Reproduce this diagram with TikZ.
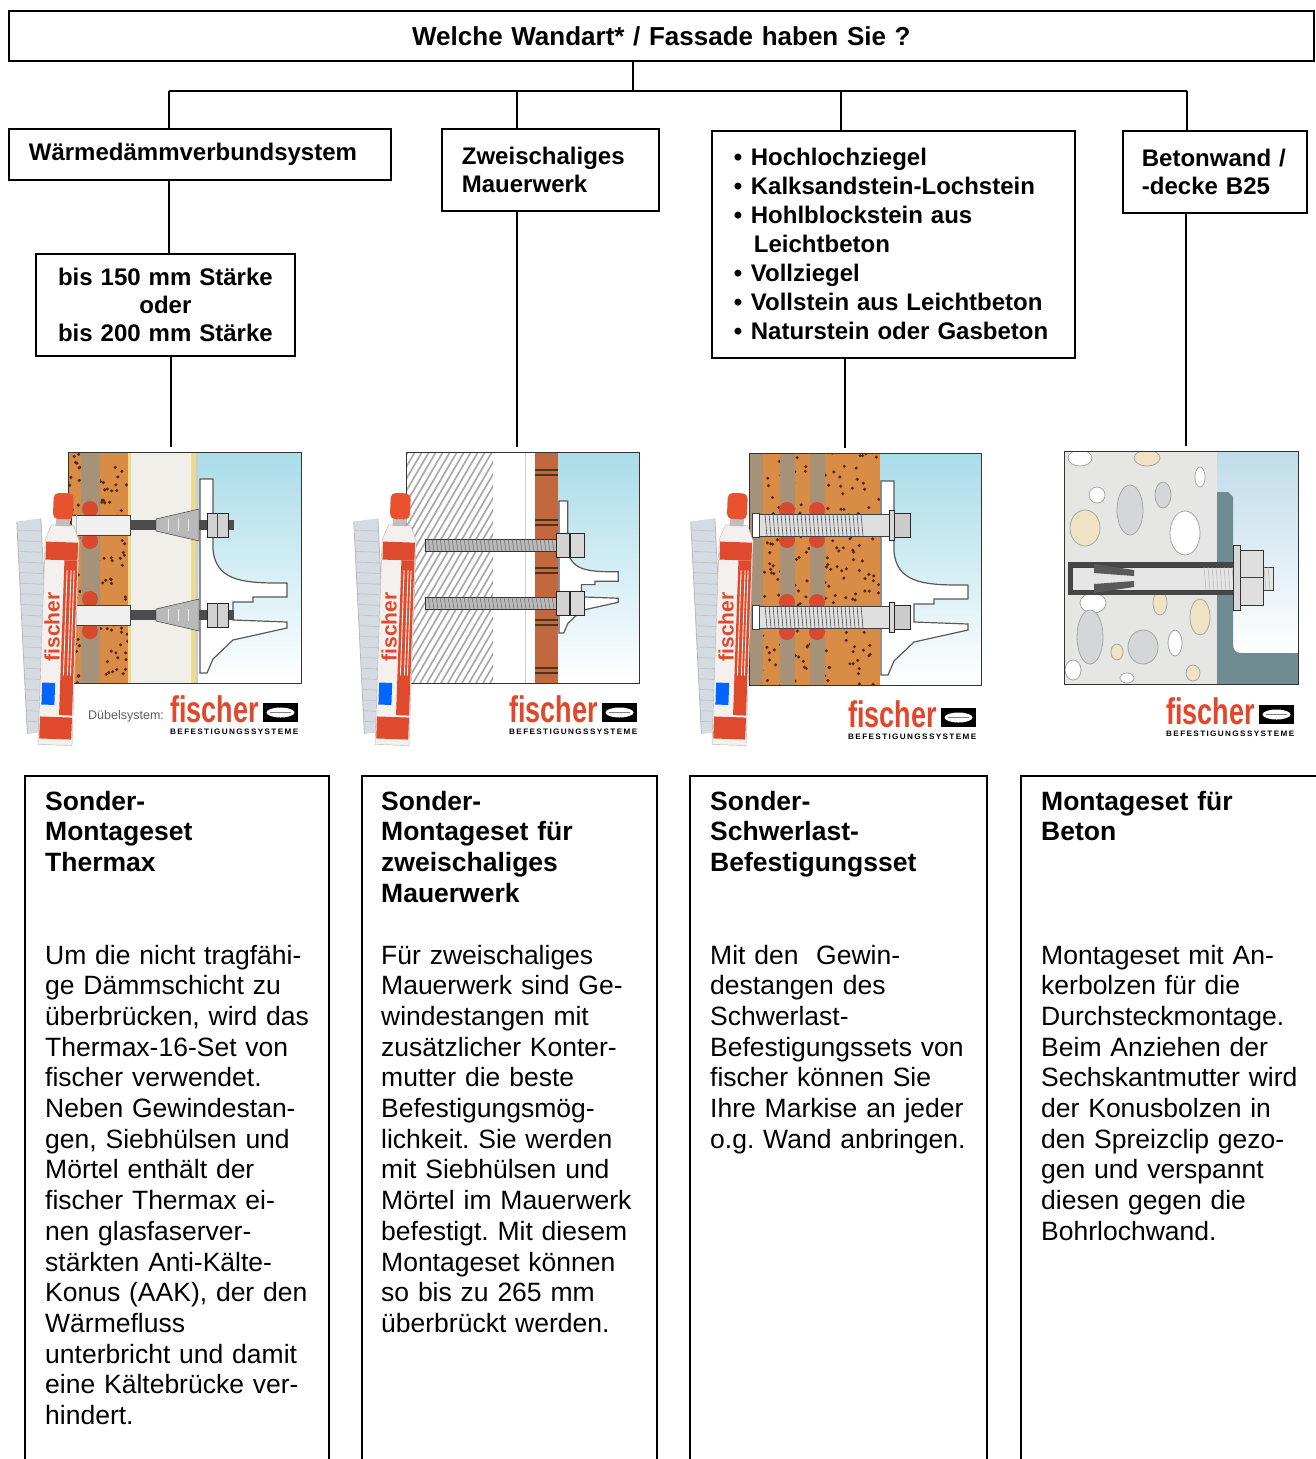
\documentclass[tikz,border=0pt]{standalone}
\usepackage{fontspec}
\setmainfont{Liberation Sans}
\usepackage{graphicx}
\usetikzlibrary{calc}
\frenchspacing
\definecolor{brick}{HTML}{D98C45}
\definecolor{dotc}{HTML}{5A2810}
\definecolor{stone}{HTML}{A69279}
\definecolor{mortar}{HTML}{D9492E}
\definecolor{insul}{HTML}{F1EFEA}
\definecolor{yline}{HTML}{EADB8E}
\definecolor{skytop}{HTML}{A9DCE9}
\definecolor{skyfour}{HTML}{BFDCEA}
\definecolor{bricktwo}{HTML}{C2683E}
\definecolor{concrete}{HTML}{E6E6E4}
\definecolor{pebgrey}{HTML}{D4D6D8}
\definecolor{pebbeige}{HTML}{EFE3C4}
\definecolor{steel}{HTML}{6E8C92}
\definecolor{fred}{HTML}{E2472B}
\definecolor{capred}{HTML}{E8522E}
\definecolor{labred}{HTML}{E04A2C}
\definecolor{tube}{HTML}{D5DBE2}
\definecolor{bodywhite}{HTML}{F4F0EE}

\tikzset{
  box/.style={draw, line width=1.8pt, inner xsep=20pt, inner ysep=0pt, anchor=north west,
    align=left, font=\fontsize{24}{28}\selectfont\bfseries},
  wire/.style={line width=1.8pt},
  photo/.style={draw=black!80, line width=1.3pt, anchor=north west, inner sep=0pt},
  openbox/.style={draw, line width=1.8pt, anchor=north west, inner sep=0pt, minimum height=720pt},
  head/.style={anchor=base west, inner sep=0pt, align=left, text width=300pt,
    font=\fontsize{26.5}{30.7}\selectfont\bfseries},
  body/.style={anchor=base west, inner sep=0pt, align=left, text width=300pt,
    font=\fontsize{26.5}{30.7}\selectfont},
  bracket/.pic={
    \draw[gray!70!black, fill=white, line width=1.2pt] (0,0) -- (13,0) -- (13,71)
      .. controls (16,100) and (40,104) .. (77,104) -- (87,104) -- (87,118) -- (53,118)
      -- (53,123) -- (33,123) -- (33,141) -- (87,143) -- (87,149) -- (33,161) -- (13,180)
      -- (7,194) -- (0,194) -- cycle;
  },
  cartridge/.pic={
    \fill[tube] (-46,-222) -- (-22,-226) -- (-4,-14) -- (-28,-10) -- cycle;
    \foreach \s in {0.04,0.09,...,0.97}
      \draw[gray!45, line width=.8pt] ($(-46,-222)!\s!(-28,-10)$) -- ($(-22,-226)!\s+0.02!(-4,-14)$);
    \draw[gray!55, line width=.8pt] (-46,-222) -- (-28,-10) (-22,-226) -- (-4,-14);
    \draw[gray!60, fill=bodywhite] (-17,0) -- (-17,-205) -- (-11,-220) -- (11,-220)
      -- (17,-205) -- (17,0) -- cycle;
    \fill[labred] (-16,-185) rectangle (16,-203);
    \fill[labred] (3,-30) rectangle (16,-185);
    \fill[labred] (-16,-6) rectangle (16,-28);
    \fill[blue!60!cyan] (-15,-40) rectangle (-2,-62);
    \foreach \w in {6,10,13} \draw[white, line width=.9pt] (\w,-175) -- (\w,-70);
    \node[rotate=90, text=labred, font=\fontsize{21}{21}\selectfont\bfseries, inner sep=0pt]
      (-brand) at (-7,-118) {fischer};
    \fill[gray!50] (-7,-219) rectangle (7,-228);
    \fill[capred, rounded corners=5pt] (-10,-226) -- (-10,-252) -- (10,-252) -- (10,-226) -- cycle;
  },
  fischerlogo/.pic={
    \node[anchor=base west, inner sep=0pt, text=fred, font=\fontsize{37}{37}\selectfont\bfseries]
      (-word) at (0,0) {\scalebox{0.73}[1]{fischer}};
    \fill (93,-19) rectangle (128,0);
    \fill[white] (110.5,-9.5) ellipse [x radius=14, y radius=5];
    \draw[gray, line width=.6pt] (100,-9.5) -- (121,-9.5);
    \node[anchor=west, inner sep=0pt] (-tag) at (0,10)
      {\resizebox{128pt}{5.5pt}{\bfseries B\,E\,F\,E\,S\,T\,I\,G\,U\,N\,G\,S\,S\,Y\,S\,T\,E\,M\,E}};
  }
}

\begin{document}
\begin{tikzpicture}[x=1pt, y=-1pt]
  \useasboundingbox (0,0) rectangle (1316,1459);
  \clip (0,0) rectangle (1316,1459);
  \fill[white] (0,0) rectangle (1316,1459);
  \pgfmathsetseed{7}

  % question and wall types
  \node[box, align=center, font=\fontsize{26}{28}\selectfont\bfseries, text width=1265pt,
    minimum width=1305pt, minimum height=50pt]
    (frage) at (8,10) {Welche Wandart* / Fassade haben Sie ?};
  \node[box, text width=342pt, minimum width=382pt, minimum height=51pt]
    (wdvs) at (8,128) {Wärmedämmverbundsystem};
  \node[box, text width=177pt, minimum width=217pt, minimum height=82pt]
    (zweisch) at (441,128) {Zweischaliges\\Mauerwerk};
  \node[box, font=\fontsize{24}{29}\selectfont\bfseries, inner xsep=22pt, text width=319pt,
    minimum width=363pt, minimum height=227pt] (steine) at (711,130)
    {\makebox[17pt][l]{•}Hochlochziegel\\
     \makebox[17pt][l]{•}Kalksandstein-Lochstein\\
     \makebox[17pt][l]{•}Hohlblockstein aus\\
     \hspace*{20pt}Leichtbeton\\
     \makebox[17pt][l]{•}Vollziegel\\
     \makebox[17pt][l]{•}Vollstein aus Leichtbeton\\
     \makebox[17pt][l]{•}Naturstein oder Gasbeton};
  \node[box, inner xsep=19pt, text width=146pt, minimum width=184pt, minimum height=82pt]
    (beton) at (1122,130) {Betonwand /\\-decke B25};
  \node[box, align=center, text width=219pt, minimum width=259pt, minimum height=102pt]
    (staerke) at (35,253) {bis 150 mm Stärke\\oder\\bis 200 mm Stärke};

  \coordinate (bus) at (633,91);
  \coordinate (d1) at (169,91);
  \coordinate (d2) at (517,91);
  \coordinate (d3) at (841,91);
  \coordinate (d4) at (1187,91);
  \coordinate (e1) at (171,0);
  \coordinate (e3) at (845,0);
  \coordinate (e4) at (1186,0);
  \draw[wire] (frage.south -| bus) -- (bus);
  \draw[wire] (d1) -- (d4);
  \draw[wire] (d1) -- (d1 |- wdvs.north);
  \draw[wire] (d2) -- (d2 |- zweisch.north);
  \draw[wire] (d3) -- (d3 |- steine.north);
  \draw[wire] (d4) -- (d4 |- beton.north);
  \draw[wire] (wdvs.south -| d1) -- (staerke.north -| d1);

  % picture 1: Thermax
  \begin{scope}[shift={(68,452)}]
    \fill[brick] (0,0) rectangle (60,231);
    \begin{scope}
      \clip (0,0) rectangle (60,231);
      \foreach \i in {1,...,150} \fill[dotc] (rnd*60, rnd*231) circle (1.7);
    \end{scope}
    \fill[stone] (13,0) rectangle (32,231);
    \fill[yline] (60,0) rectangle (63,231);
    \fill[insul] (63,0) rectangle (123,231);
    \fill[yline] (123,0) rectangle (128,231);
    \fill[gray!40] (128,0) rectangle (130,231);
    \shade[top color=skytop, bottom color=white] (130,0) rectangle (233,231);
    \pic at (132,27) {bracket};
    \foreach \y in {73,163} {
      \fill[mortar] (22,\y-16) circle (8) (22,\y+16) circle (8);
      \draw[gray!50!black, fill=gray!12] (3,\y-10) rectangle (62,\y+10);
      \draw[gray!50] (8,\y-10) -- (8,\y+10);
      \fill[gray!60!black] (62,\y-5) rectangle (166,\y+5);
      \draw[gray!30!black, fill=gray!55] (88,\y-6) -- (131,\y-16) -- (131,\y+16) -- (88,\y+6) -- cycle;
      \foreach \f in {100,110,120} \draw[gray!15] (\f,\y-6) -- (\f,\y+6);
      \draw[gray!30!black, fill=gray!35] (139,\y-12) rectangle (160,\y+12);
      \draw[gray!50!black] (149.5,\y-12) -- (149.5,\y+12);
    }
  \end{scope}

  % picture 2: zweischaliges Mauerwerk
  \begin{scope}[shift={(406,452)}]
    \fill[white] (0,0) rectangle (233,231);
    \begin{scope}
      \clip (0,0) rectangle (87,231);
      \foreach \k in {-140,-133,...,90} \draw[gray!70, line width=1.6pt] (\k,231) -- ++(135,-231);
    \end{scope}
    \draw[gray!40] (119,0) -- (119,231);
    \fill[bricktwo] (129,0) rectangle (152,231);
    \foreach \m in {18,68,116,168,216}
      \draw[brown!40!black, line width=1.2pt] (129,\m) -- (152,\m) (129,\m+5) -- (152,\m+5);
    \shade[top color=skytop, bottom color=white] (152,0) rectangle (233,231);
    \pic[scale=0.68] at (153,49) {bracket};
    \foreach \y in {93,151} {
      \draw[gray!40!black, fill=gray!55] (19,\y-6) rectangle (150,\y+6);
      \foreach \t in {22,26,...,146} \draw[gray!85!black, line width=.5pt] (\t,\y-6) -- (\t+2,\y+6);
      \draw[gray!30!black, fill=gray!35] (150,\y-12) rectangle (163,\y+12);
      \draw[gray!30!black, fill=gray!30] (164,\y-12) rectangle (178,\y+12);
    }
  \end{scope}

  % picture 3: Lochstein
  \begin{scope}[shift={(749,453)}]
    \fill[brick] (0,0) rectangle (131,232);
    \begin{scope}
      \clip (0,0) rectangle (131,232);
      \foreach \i in {1,...,240} \fill[dotc] (rnd*131, rnd*232) circle (1.7);
    \end{scope}
    \foreach \a/\b in {0/14,31/46,61/76} \fill[stone] (\a,0) rectangle (\b,232);
    \shade[top color=skytop, bottom color=white] (131,0) rectangle (232,232);
    \pic at (132,28) {bracket};
    \foreach \y in {72,164} {
      \fill[mortar] (38,\y-15) circle (8) (38,\y+15) circle (8) (68,\y-15) circle (8) (68,\y+15) circle (8);
      \draw[gray!50!black, fill=gray!25] (4,\y-11) rectangle (150,\y+11);
      \foreach \t in {16,20,...,112} \draw[gray!60!black, line width=.6pt] (\t,\y-11) -- (\t+2,\y+11);
      \draw[gray!50!black, fill=white] (3,\y-12) rectangle (10,\y+12);
      \draw[gray!30!black, fill=gray!30] (140,\y-15) rectangle (145,\y+15);
      \draw[gray!30!black, fill=gray!40] (145,\y-12) rectangle (161,\y+12);
    }
  \end{scope}

  % picture 4: Beton
  \begin{scope}[shift={(1064,451)}]
    \fill[concrete] (0,0) rectangle (153,233);
    \begin{scope}
      \clip (0,0) rectangle (153,233);
      \foreach \px/\py/\rx/\ry/\c in {16/7/12/8/white, 83/7/13/8/pebbeige, 136/26/5/10/white,
          33/44/8/8/white, 66/59/13/25/pebgrey, 99/44/8/13/pebgrey, 121/82/15/22/white,
          21/77/15/18/pebbeige, 29/152/13/10/white, 96/152/7/12/pebbeige, 136/166/10/18/pebbeige,
          26/186/13/27/pebgrey, 79/196/15/17/pebgrey, 111/192/7/13/white, 53/201/6/8/pebbeige,
          9/219/8/10/white, 63/227/7/5/white, 129/222/7/8/pebbeige}
        \draw[gray!70, fill=\c, line width=.8pt] (\px,\py) ellipse [x radius=\rx, y radius=\ry];
    \end{scope}
    \shade[top color=skyfour, bottom color=white] (153,0) rectangle (234,202);
    \fill[steel] (153,233) -- (153,41) -- (164,41) -- (169,46) -- (169,192)
      .. controls (169,199) and (171,202) .. (178,202) -- (234,202) -- (234,233) -- cycle;
    \fill[gray!55!black] (4,111) rectangle (169,144);
    \draw[gray!50!black, fill=gray!20] (8,116) rectangle (209,139);
    \fill[gray!70!black] (30,113) -- (70,119) -- (70,125) -- (30,122) -- cycle
      (30,142) -- (70,136) -- (70,130) -- (30,133) -- cycle;
    \foreach \t in {140,144,...,204} \draw[gray!60, line width=.5pt] (\t,116) -- (\t+2,139);
    \draw[gray!40!black, fill=gray!30] (169,94) rectangle (176,159);
    \draw[gray!40!black, fill=gray!25] (176,99) rectangle (199,154);
    \draw[gray!50!black] (176,126.5) -- (199,126.5);
  \end{scope}

  % picture frames
  \node[photo, minimum width=233pt, minimum height=231pt] (bildA) at (68,452) {};
  \node[photo, minimum width=233pt, minimum height=231pt] (bildB) at (406,452) {};
  \node[photo, minimum width=232pt, minimum height=232pt] (bildC) at (749,453) {};
  \node[photo, minimum width=234pt, minimum height=233pt] (bildD) at (1064,451) {};

  \draw[wire, shorten >=5pt] (staerke.south -| e1) -- (bildA.north -| e1);
  \draw[wire, shorten >=5pt] (zweisch.south -| d2) -- (bildB.north -| d2);
  \draw[wire, shorten >=5pt] (steine.south -| e3) -- (bildC.north -| e3);
  \draw[wire, shorten >=5pt] (beton.south -| e4) -- (bildD.north -| e4);

  % cartridges and logos
  \pic[rotate=-2] (kartA) at (55,745) {cartridge};
  \pic[rotate=-2] (kartB) at (392,745) {cartridge};
  \pic[rotate=-2] (kartC) at (729,745) {cartridge};
  \node[anchor=base west, inner sep=0pt, font=\fontsize{12.5}{12.5}\selectfont, text=gray!75!black]
    (duebel) at (88,719) {Dübelsystem:};
  \pic (logoA) at (170,722) {fischerlogo};
  \pic (logoB) at (509,722) {fischerlogo};
  \pic (logoC) at (848,727) {fischerlogo};
  \pic (logoD) at (1166,724) {fischerlogo};

  % description boxes
  \node[openbox, minimum width=304pt] (setA) at (24,775) {};
  \node[openbox, minimum width=295pt] (setB) at (361,775) {};
  \node[openbox, minimum width=297pt] (setC) at (689,775) {};
  \node[openbox, minimum width=310pt] (setD) at (1020,775) {};

  \node[head] (kopfA) at ($(setA.north west)+(21,35)$) {Sonder-\\Montageset\\Thermax};
  \node[head] (kopfB) at ($(setB.north west)+(20,35)$) {Sonder-\\Montageset für\\zweischaliges\\Mauerwerk};
  \node[head] (kopfC) at ($(setC.north west)+(21,35)$) {Sonder-\\Schwerlast-\\Befestigungsset};
  \node[head] (kopfD) at ($(setD.north west)+(21,35)$) {Montageset für\\Beton};

  \node[body] (textA) at ($(setA.north west)+(21,189)$)
    {Um die nicht tragfähi-\\ge Dämmschicht zu\\überbrücken, wird das\\Thermax-16-Set von\\
     fischer verwendet.\\Neben Gewindestan-\\gen, Siebhülsen und\\Mörtel enthält der\\
     fischer Thermax ei-\\nen glasfaserver-\\stärkten Anti-Kälte-\\Konus (AAK), der den\\
     Wärmefluss\\unterbricht und damit\\eine Kältebrücke ver-\\hindert.};
  \node[body] (textB) at ($(setB.north west)+(20,189)$)
    {Für zweischaliges\\Mauerwerk sind Ge-\\windestangen mit\\zusätzlicher Konter-\\
     mutter die beste\\Befestigungsmög-\\lichkeit. Sie werden\\mit Siebhülsen und\\
     Mörtel im Mauerwerk\\befestigt. Mit diesem\\Montageset können\\so bis zu 265 mm\\
     überbrückt werden.};
  \node[body] (textC) at ($(setC.north west)+(21,189)$)
    {Mit den \ Gewin-\\destangen des\\Schwerlast-\\Befestigungssets von\\
     fischer können Sie\\Ihre Markise an jeder\\o.g. Wand anbringen.};
  \node[body] (textD) at ($(setD.north west)+(21,189)$)
    {Montageset mit An-\\kerbolzen für die\\Durchsteckmontage.\\Beim Anziehen der\\
     Sechskantmutter wird\\der Konusbolzen in\\den Spreizclip gezo-\\gen und verspannt\\
     diesen gegen die\\Bohrlochwand.};
\end{tikzpicture}
\end{document}
